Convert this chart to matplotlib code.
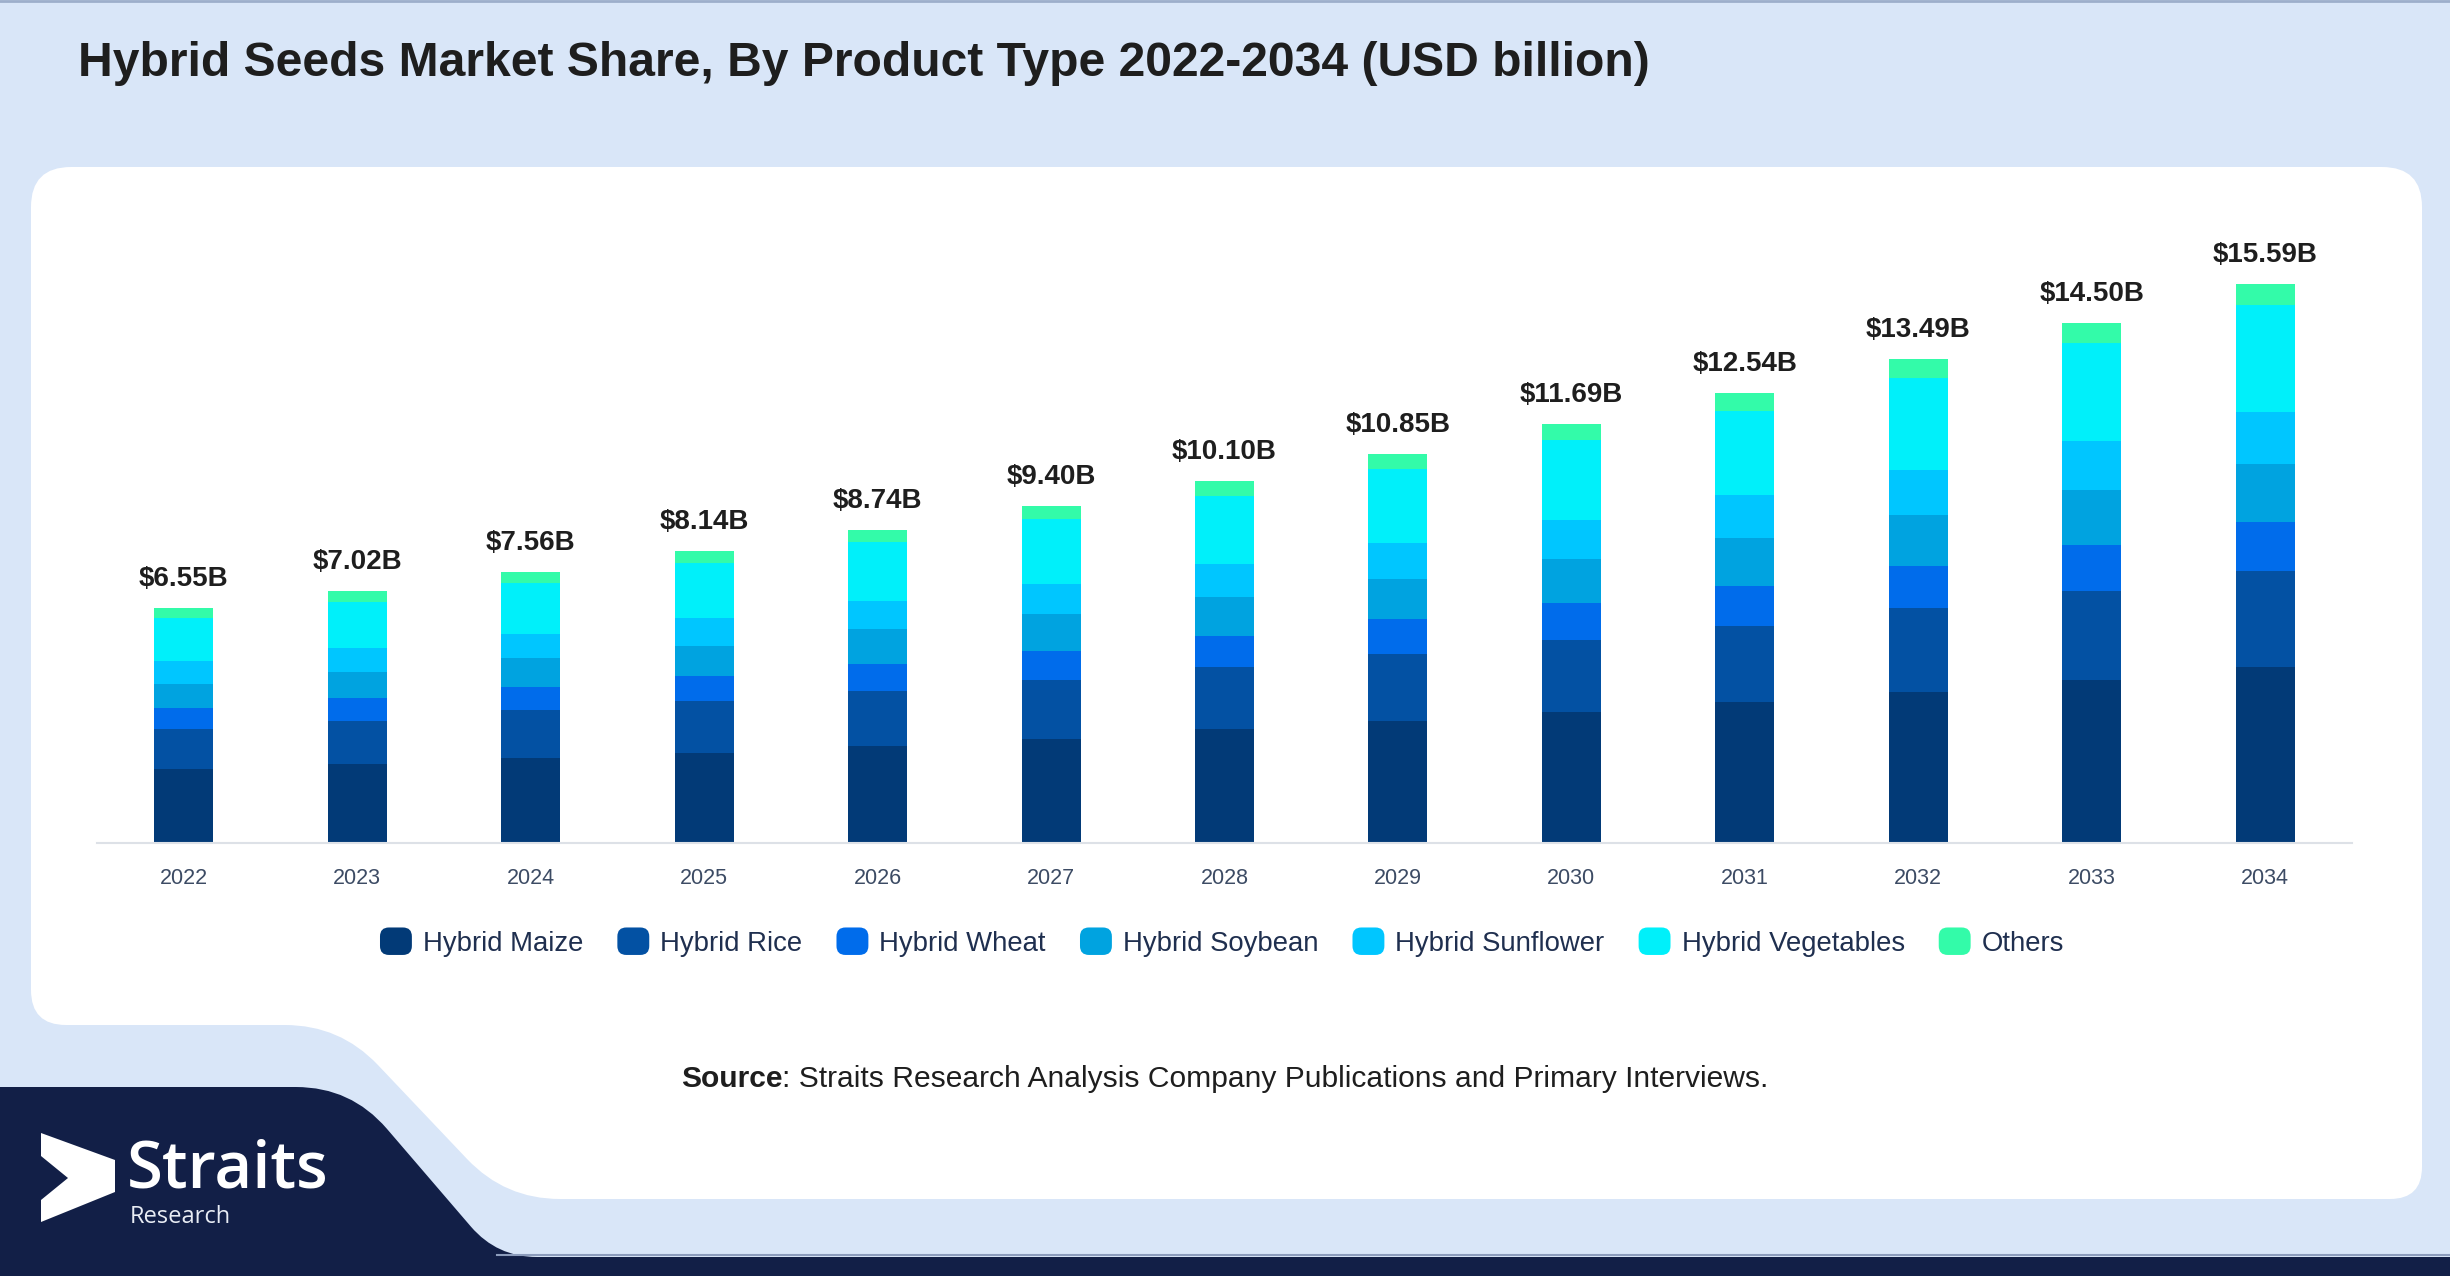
import matplotlib
matplotlib.use("Agg")
import matplotlib.pyplot as plt
import numpy as np
from matplotlib.path import Path
from matplotlib.patches import PathPatch, FancyBboxPatch, Patch, Polygon
from matplotlib.legend_handler import HandlerPatch

plt.rcParams['font.family'] = ['Liberation Sans', 'DejaVu Sans']

# donnees (USD milliards)
years = ['2022', '2023', '2024', '2025', '2026', '2027', '2028',
         '2029', '2030', '2031', '2032', '2033', '2034']
maize      = [2.07, 2.20, 2.38, 2.53, 2.72, 2.92, 3.18, 3.42, 3.65, 3.93, 4.23, 4.54, 4.90]
rice       = [1.12, 1.21, 1.33, 1.43, 1.53, 1.63, 1.73, 1.86, 2.02, 2.14, 2.34, 2.50, 2.70]
wheat      = [0.58, 0.63, 0.65, 0.71, 0.75, 0.82, 0.87, 0.96, 1.02, 1.11, 1.17, 1.28, 1.35]
soybean    = [0.68, 0.74, 0.81, 0.84, 0.96, 1.01, 1.08, 1.14, 1.24, 1.32, 1.42, 1.54, 1.63]
sunflower  = [0.62, 0.65, 0.67, 0.76, 0.80, 0.85, 0.93, 0.99, 1.09, 1.20, 1.25, 1.35, 1.45]
vegetables = [1.20, 1.30, 1.42, 1.54, 1.65, 1.80, 1.90, 2.06, 2.21, 2.36, 2.57, 2.73, 2.96]
others     = [0.28, 0.29, 0.30, 0.33, 0.33, 0.37, 0.41, 0.42, 0.46, 0.48, 0.51, 0.56, 0.60]

series_names = ['Hybrid Maize', 'Hybrid Rice', 'Hybrid Wheat', 'Hybrid Soybean',
                'Hybrid Sunflower', 'Hybrid Vegetables', 'Others']
series_colors = ['#023A77', '#0351A3', '#006CEB', '#00A3E0', '#00C6FF', '#00F0FA', '#33FBA9']

BG = '#D9E6F8'
NAVY = '#121F47'
W, H = 2450, 1276


def rounded_path(pts, radii):
	# polygone avec coins arrondis (courbes quadratiques)
	verts, codes = [], []
	n = len(pts)
	for i in range(n):
		p0 = np.array(pts[i - 1], float)
		p1 = np.array(pts[i], float)
		p2 = np.array(pts[(i + 1) % n], float)
		r = radii[i]
		d1 = (p0 - p1) / np.linalg.norm(p0 - p1)
		d2 = (p2 - p1) / np.linalg.norm(p2 - p1)
		a = p1 + d1 * r
		b = p1 + d2 * r
		verts += [a, p1, b]
		codes += [Path.MOVETO if i == 0 else Path.LINETO, Path.CURVE3, Path.CURVE3]
	verts.append(verts[0])
	codes.append(Path.CLOSEPOLY)
	return Path(verts, codes)


class RoundBox(HandlerPatch):
	def create_artists(self, legend, orig_handle, xdescent, ydescent, width, height, fontsize, trans):
		p = FancyBboxPatch((-xdescent, -ydescent), width, height,
		                   boxstyle="round,pad=0,rounding_size=%f" % (width * 0.28),
		                   fc=orig_handle.get_facecolor(), ec='none', transform=trans)
		return [p]


fig = plt.figure(figsize=(W / 100, H / 100), dpi=100)
fig.patch.set_facecolor(BG)

# fond : panneau blanc, bandeau bleu fonce, logo
bg = fig.add_axes([0, 0, 1, 1], zorder=0)
bg.set_xlim(0, W)
bg.set_ylim(H, 0)
bg.axis('off')
bg.plot([0, W], [1, 1], color='#9DAECB', lw=2)

panel = [(31, 167), (2422, 167), (2422, 1199), (505, 1199), (340, 1025), (31, 1025)]
bg.add_patch(PathPatch(rounded_path(panel, [40, 40, 32, 55, 55, 35]), fc='white', ec='none'))

band = [(0, 1087), (351, 1087), (497, 1257), (W, 1257), (W, H), (0, H)]
bg.add_patch(PathPatch(rounded_path(band, [0, 55, 40, 0, 0, 0]), fc=NAVY, ec='none'))
bg.plot([497, W], [1255, 1255], color='#8C9CBC', lw=1.5)

logo = [(41, 1133), (115, 1160), (115, 1192), (41, 1222), (41, 1200), (68, 1178), (41, 1156)]
bg.add_patch(Polygon(logo, closed=True, fc='white', ec='none'))
bg.text(127, 1187, 'Straits', color='white', fontsize=47, fontweight='semibold',
        family=['Open Sans', 'DejaVu Sans'], va='baseline', ha='left')
bg.text(130, 1223, 'Research', color='#E8ECF4', fontsize=17,
        family=['Open Sans', 'DejaVu Sans'], va='baseline', ha='left')

# titre
bg.text(78, 64, 'Hybrid Seeds Market Share, By Product Type 2022-2034 (USD billion)',
        fontsize=34.6, fontweight='bold', color='#1E1E1E', va='center', ha='left')

# source
renderer = fig.canvas.get_renderer()
t1 = bg.text(681, 1079, 'Source', fontsize=21.6, fontweight='bold', color='#1E1E1E', va='center', ha='left')
bb = t1.get_window_extent(renderer)
bg.text(681 + bb.width, 1079, ': Straits Research Analysis Company Publications and Primary Interviews.',
        fontsize=21.6, color='#1E1E1E', va='center', ha='left')

# graphique
ax = fig.add_axes([97 / W, (H - 843.3) / H, (2352 - 97) / W, 643.3 / H], zorder=1)
ax.patch.set_alpha(0)

x = np.arange(len(years))
data = [maize, rice, wheat, soybean, sunflower, vegetables, others]
bottom = np.zeros(len(years))
for vals, name, col in zip(data, series_names, series_colors):
	ax.bar(x, vals, 0.34, bottom=bottom, color=col, label=name, linewidth=0)
	bottom = bottom + np.array(vals)

for i, tot in enumerate(bottom):
	ax.annotate('$%.2fB' % tot, (x[i], tot), xytext=(0, 11.5), textcoords='offset points',
	            ha='center', va='bottom', fontsize=20, fontweight='bold', color='#1E1E1E')

ax.set_xlim(-0.5, len(years) - 0.5)
ax.set_ylim(0, 17.93)
ax.set_xticks(x)
ax.set_xticklabels(years, fontsize=15.5, color='#3C4B64')
ax.set_yticks([])
ax.tick_params(axis='x', length=0, pad=18)
for s in ['top', 'right', 'left']:
	ax.spines[s].set_visible(False)
ax.spines['bottom'].set_color('#DDE1E7')
ax.spines['bottom'].set_linewidth(1.5)

handles = [Patch(facecolor=c) for c in series_colors]
fig.legend(handles, series_names, loc='center', bbox_to_anchor=(1222 / W, (H - 942) / H),
           ncol=7, frameon=False, fontsize=19.8, labelcolor='#1F2F4F',
           handlelength=1.16, handleheight=1.16, handletextpad=0.4, columnspacing=1.24,
           handler_map={Patch: RoundBox()})

fig.savefig('out.png', dpi=100, facecolor=BG)
